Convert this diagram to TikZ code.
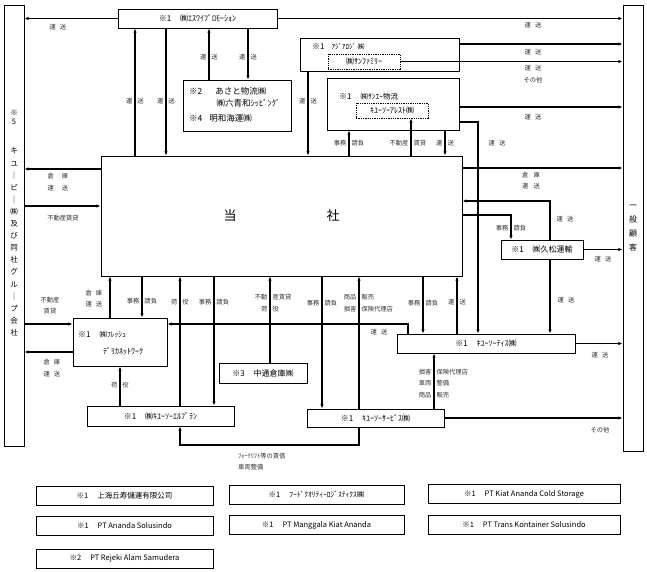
\documentclass[tikz,border=0pt]{standalone}
\usepackage{fontspec}
\setmainfont{Noto Sans CJK JP}
\usetikzlibrary{arrows.meta, calc}

% tamaño de letra y etiquetas partidas por una línea
\newcommand{\letra}[2]{\fontsize{#1}{#2}\selectfont}
\newcommand{\corte}[2]{\makebox[0pt][r]{#1\hspace{2.5pt}}\makebox[0pt][l]{\hspace{2.5pt}#2}}

\begin{document}
\begin{tikzpicture}[x=1pt, y=-1pt,
	caja/.style={draw, line width=0.9pt, inner sep=0pt, align=center, font=\letra{8}{12}},
	tam/.style 2 args={minimum width=#1pt, minimum height=#2pt},
	punteada/.style={draw, line width=0.75pt, dash pattern=on 1.3pt off 1pt, inner sep=0pt, align=center},
	flecha/.style={line width=1.05pt, -{Latex[length=4.2pt,width=3.4pt]}},
	etiq/.style={inner sep=0pt, text=black!80, align=center, font=\letra{6.3}{11.7}},
	texto/.style={inner sep=0pt, align=left, font=\letra{8}{12}}]
	
	% --- 0. MARCO ---
	\useasboundingbox (0,0) rectangle (647,572);
	
	% --- 1. CAJAS LATERALES ---
	\node[caja, tam={20}{441}] (grupo) at (14,225.5) {};
	\node[texto, align=center, font=\letra{7.5}{9}] (grupoA) at (14,117.5) {※\\5};
	\node[texto, align=center, font=\letra{7.5}{12.1}] (grupoB) at (14,242) {キ\\ユ\\｜\\ピ\\｜\\㈱\\及\\び\\同\\社\\グ\\ル\\｜\\プ\\会\\社};
	
	\node[caja, tam={20}{446}] (cliente) at (633,228) {};
	\node[texto, align=center, font=\letra{8}{13.8}] (clienteT) at (633,228) {一\\般\\顧\\客};
	
	% --- 2. CAJAS SUPERIORES ---
	\node[caja, tam={159}{19}] (sy) at (197.5,18.5) {※1\hspace{9pt}{\letra{8}{9}㈱ｴｽﾜｲﾌﾟﾛﾓｰｼｮﾝ}};
	
	\node[caja, tam={108}{51}] (asato) at (237,105.5) {};
	\node[texto, anchor=west, font=\letra{8.5}{12}] (asatoA) at (189,91) {※2\hspace{13pt}あさと物流㈱};
	\node[texto, anchor=west, font=\letra{8.5}{12}] (asatoB) at (216.5,103.5) {㈱六青和ｼｯﾋﾟﾝｸﾞ};
	\node[texto, anchor=west, font=\letra{8.5}{12}] (asatoC) at (189,118) {※4\hspace{7pt}明和海運㈱};
	
	\node[caja, tam={159}{33}] (asia) at (379.5,54.5) {};
	\node[texto, anchor=west] (asiaT) at (312,47) {※1\hspace{7pt}{\letra{7}{8}ｱｼﾞｱﾛｼﾞ ㈱}};
	\node[punteada, tam={72}{15}, font=\letra{8}{9}] (sunfam) at (364,61.5) {㈱ｻﾝﾌｧﾐﾘｰ};
	
	\node[caja, tam={132}{52}] (sanei) at (393,104) {};
	\node[texto, anchor=west] (saneiT) at (339,97) {※1\hspace{9pt}{\letra{7.5}{8}㈱ｻﾝｴｰ物流}};
	\node[punteada, tam={72}{15}, font=\letra{8}{9}] (arest) at (392,110.5) {ｷﾕｰｿｰｱﾚｽﾄ㈱};
	
	% --- 3. CAJA PRINCIPAL ---
	\node[caja, tam={361}{120}, font=\letra{13}{15}] (main) at (281.5,216) {当\hspace{90pt}社};
	
	% --- 4. CAJAS INFERIORES ---
	\node[caja, tam={82}{19}] (hisa) at (542,249.5) {※1\hspace{9pt}㈱久松運輸};
	
	\node[caja, tam={94}{48}] (fresh) at (120,342) {};
	\node[texto, anchor=west] (freshA) at (78,335) {※1\hspace{9pt}{\letra{7.5}{9}㈱ﾌﾚｯｼｭ}};
	\node[texto, anchor=west, font=\letra{8}{9}] (freshB) at (103,351) {ﾃﾞﾘｶﾈｯﾄﾜｰｸ};
	
	\node[caja, tam={147}{20}] (lplan) at (160.5,416) {※1\hspace{9pt}{\letra{8}{9}㈱ｷﾕｰｿｰｴﾙﾌﾟﾗﾝ}};
	\node[caja, tam={88}{20}] (naka) at (263,373) {※3\hspace{9pt}中通倉庫㈱};
	\node[caja, tam={137}{18}] (serv) at (375.5,418) {※1\hspace{9pt}{\letra{8}{9}ｷﾕｰｿｰｻｰﾋﾞｽ㈱}};
	\node[caja, tam={178}{19}] (tis) at (486,343.5) {※1\hspace{9pt}{\letra{8}{9}ｷﾕｰｿｰﾃｨｽ㈱}};
	
	% --- 5. CONEXIONES: arriba ---
	\draw[flecha] (sy.west) -- (sy.west -| grupo.east);
	\node[etiq] (e1) at (58,27) {運\hspace{4pt}送};
	\draw[flecha] (sy.east) -- (sy.east -| cliente.west);
	\node[etiq] (e2) at (533,25) {運\hspace{4pt}送};
	
	\draw[flecha] (main.north -| 135,0) -- (sy.south -| 135,0);
	\node[etiq] (e3) at (135,101) {\corte{運}{送}};
	\draw[flecha] (sy.south -| 166,0) -- (main.north -| 166,0);
	\node[etiq] (e4) at (166,101) {\corte{運}{送}};
	\draw[flecha] (asato.north -| 209,0) -- (sy.south -| 209,0);
	\node[etiq] (e5) at (209,57) {\corte{運}{送}};
	\draw[flecha] (sy.south -| 248,0) -- (asato.north -| 248,0);
	\node[etiq] (e6) at (248,57) {\corte{運}{送}};
	
	\draw[flecha] (asia.east |- 0,44) -- (cliente.west |- 0,44);
	\node[etiq] (e7) at (533,52) {運\hspace{4pt}送};
	\draw[flecha] (sunfam.east) -- (sunfam.east -| cliente.west);
	\node[etiq] (e8) at (533,74) {運\hspace{4pt}送\\その他};
	\draw[flecha] (asia.south -| 308,0) -- (main.north -| 308,0);
	\node[etiq] (e9) at (308,101) {\corte{運}{送}};
	
	\draw[flecha] (sanei.east |- 0,107) -- (cliente.west |- 0,107);
	\node[etiq] (e10) at (533,117) {運\hspace{4pt}送};
	\draw[flecha] (main.north -| 349,0) -- (sanei.south -| 349,0);
	\node[etiq] (e11) at (349,143) {\corte{事務}{請負}};
	\draw[flecha] (main.north -| 411,0) -- (arest.south -| 411,0);
	\node[etiq] (e12) at (411,143) {\corte{不動産}{賃貸}};
	\draw[flecha] (sanei.south -| 445,0) -- (main.north -| 445,0);
	\node[etiq] (e13) at (445,143) {\corte{運}{送}};
	\draw[flecha] (sanei.east |- 0,122) -| (tis.north -| 478,0);
	\node[etiq] (e14) at (497,143) {運\hspace{4pt}送};
	
	% --- 6. CONEXIONES: lados ---
	\draw[flecha] (main.west |- 0,169) -- (grupo.east |- 0,169);
	\node[etiq] (e15) at (58,182) {倉\hspace{8pt}庫\\運\hspace{8pt}送};
	\draw[flecha] (grupo.east |- 0,206) -- (main.west |- 0,206);
	\node[etiq] (e16) at (63,218) {不動産賃貸};
	
	\draw[flecha] (main.east |- 0,168) -- (cliente.west |- 0,168);
	\node[etiq] (e17) at (531,180.5) {倉\hspace{5pt}庫\\運\hspace{5pt}送};
	\draw[flecha] (hisa.north -| 550,0) |- (main.east |- 0,201);
	\node[etiq] (e18) at (565,219) {運\hspace{4pt}送};
	\draw[flecha] (main.east |- 0,215) -| (hisa.north -| 511,0);
	\node[etiq] (e19) at (511,228) {\corte{事務}{請負}};
	\draw[flecha] (hisa.east) -- (hisa.east -| cliente.west);
	\node[etiq] (e20) at (603,259) {運\hspace{4pt}送};
	\draw[flecha] (hisa.south -| 550,0) -- (tis.north -| 550,0);
	\node[etiq] (e21) at (566,300) {運\hspace{4pt}送};
	
	% --- 7. CONEXIONES: abajo ---
	\draw[flecha] (fresh.north -| 110,0) -- (main.south -| 110,0);
	\node[etiq] (e22) at (94,298.5) {倉\hspace{4pt}庫\\運\hspace{4pt}送};
	\draw[flecha] (main.south -| 142,0) -- (fresh.north -| 142,0);
	\node[etiq] (e23) at (142,301) {\corte{事務}{請負}};
	\draw[flecha] (lplan.north -| 180,0) -- (main.south -| 180,0);
	\node[etiq] (e24) at (180,302) {\corte{荷}{役}};
	\draw[flecha] (main.south -| 214,0) -- (lplan.north -| 214,0);
	\node[etiq] (e25) at (214,302) {\corte{事務}{請負}};
	\draw[flecha] (naka.north -| 270,0) -- (main.south -| 270,0);
	\node[etiq] (e26) at (270,303) {\corte{不動}{産賃貸}\\\corte{荷}{役}};
	\draw[flecha] (main.south -| 322,0) -- (serv.north -| 322,0);
	\node[etiq] (e27) at (322,303) {\corte{事務}{請負}};
	\draw[flecha] (serv.north -| 359,0) -- (main.south -| 359,0);
	\node[etiq] (e28) at (359,303) {\corte{商品}{販売}\\\corte{損害}{保険代理店}};
	\draw[flecha] (main.south -| 423,0) -- (tis.north -| 423,0);
	\node[etiq] (e29) at (423,303) {\corte{事務}{請負}};
	\draw[flecha] (tis.north -| 457,0) -- (main.south -| 457,0);
	\node[etiq] (e30) at (457,302) {\corte{運}{送}};
	
	% --- 8. CONEXIONES: empresas de abajo ---
	\draw[flecha] (grupo.east |- 0,324) -- (fresh.west |- 0,324);
	\node[etiq] (e31) at (50,305.5) {不動産\\賃貸};
	\draw[flecha] (fresh.west |- 0,352) -- (grupo.east |- 0,352);
	\node[etiq] (e32) at (52,368) {倉\hspace{4pt}庫\\運\hspace{4pt}送};
	\draw[flecha] (tis.north -| 408,0) |- (fresh.east |- 0,324);
	\node[etiq] (e33) at (379,332) {運\hspace{4pt}送};
	\draw[flecha] (lplan.north -| 120,0) -- (fresh.south -| 120,0);
	\node[etiq] (e34) at (120,385) {\corte{荷}{役}};
	
	\coordinate (vuelta) at (359,445);
	\draw[flecha] (serv.south -| vuelta) -- (vuelta) -| (lplan.south -| 180,0);
	\node[etiq, anchor=west, align=left] (e35) at (238,461.5) {ﾌｫｰｸﾘﾌﾄ等の賃借\\車両整備};
	\draw[flecha] (serv.north -| 434,0) -- (tis.south -| 434,0);
	\node[etiq] (e36) at (434,383.5) {\corte{損害}{保険代理店}\\\corte{車両}{整備}\\\corte{商品}{販売}};
	\draw[flecha] (serv.east |- 0,418) -- (cliente.west |- 0,418);
	\node[etiq] (e37) at (600,430) {その他};
	\draw[flecha] (tis.east) -- (tis.east -| cliente.west);
	\node[etiq] (e38) at (600,355) {運\hspace{4pt}送};
	
	% --- 9. OTRAS EMPRESAS ---
	\node[caja, tam={177}{19}, font=\letra{7.5}{9}] (otra1) at (124.5,495.5) {※1\hspace{9pt}上海丘寿儲運有限公司};
	\node[caja, tam={175}{19}, font=\letra{7.5}{9}] (otra2) at (316.5,495) {※1\hspace{9pt}{\letra{7.5}{8}ﾌｰﾄﾞｸｵﾘﾃｨｰﾛｼﾞｽﾃｨｸｽ㈱}};
	\node[caja, tam={192}{19}, font=\letra{7.5}{9}] (otra3) at (524,494) {※1\hspace{9pt}PT Kiat Ananda Cold Storage};
	\node[caja, tam={177}{19}, font=\letra{7.5}{9}] (otra4) at (124.5,525.5) {※1\hspace{9pt}PT Ananda Solusindo};
	\node[caja, tam={175}{19}, font=\letra{7.5}{9}] (otra5) at (316.5,525) {※1\hspace{9pt}PT Manggala Kiat Ananda};
	\node[caja, tam={192}{19}, font=\letra{7.5}{9}] (otra6) at (524,524.5) {※1\hspace{9pt}PT Trans Kontainer Solusindo};
	\node[caja, tam={177}{19}, font=\letra{7.5}{9}] (otra7) at (124.5,558.5) {※2\hspace{9pt}PT Rejeki Alam Samudera};
	
\end{tikzpicture}
\end{document}
